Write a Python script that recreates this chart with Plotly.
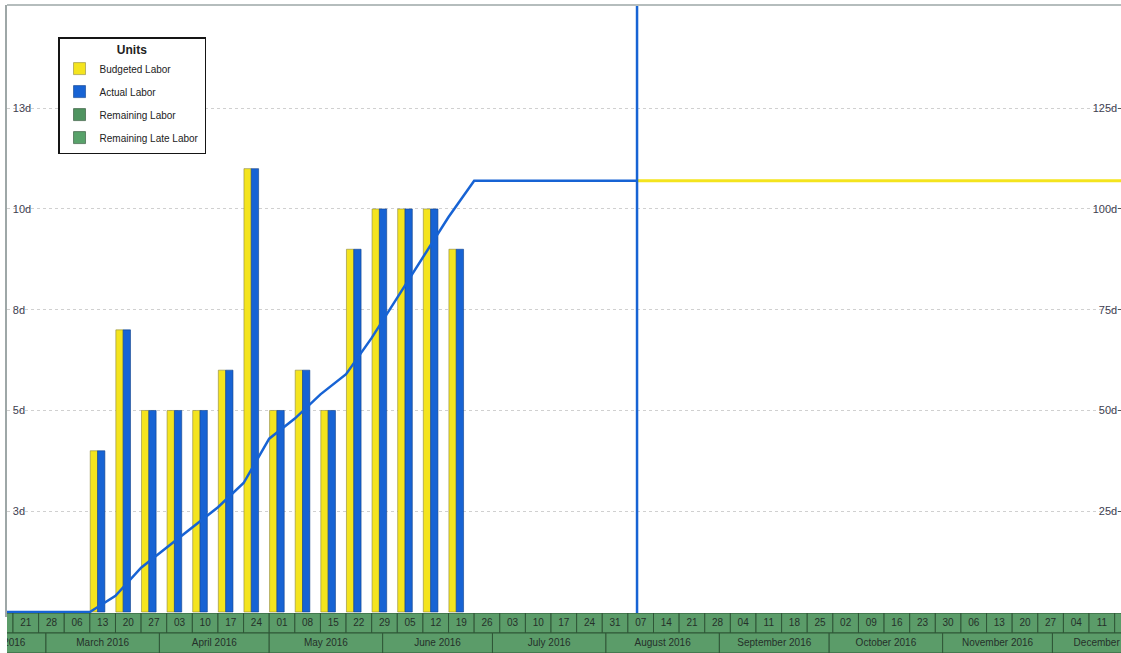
import pandas as pd
import plotly.graph_objects as go

# ---------------- data ----------------
bar_weeks = ["2016-03-13", "2016-03-20", "2016-03-27", "2016-04-03", "2016-04-10",
             "2016-04-17", "2016-04-24", "2016-05-01", "2016-05-08", "2016-05-15",
             "2016-05-22", "2016-05-29", "2016-06-05", "2016-06-12", "2016-06-19"]
budgeted_labor = [4, 7, 5, 5, 5, 6, 11, 5, 6, 5, 9, 10, 10, 10, 9]
actual_labor = [4, 7, 5, 5, 5, 6, 11, 5, 6, 5, 9, 10, 10, 10, 9]

data_date = "2016-08-09 12:00"
cum_actual_dates = ["2016-02-14", "2016-03-13", "2016-03-20", "2016-03-27", "2016-04-03",
                    "2016-04-10", "2016-04-17", "2016-04-24", "2016-05-01", "2016-05-08",
                    "2016-05-15", "2016-05-22", "2016-05-29", "2016-06-05", "2016-06-12",
                    "2016-06-19", "2016-06-26", data_date]
cum_actual = [0, 0, 4, 11, 16, 21, 26, 32, 43, 48, 54, 59, 68, 78, 88, 98, 107, 107]
cum_budget_dates = [data_date, "2016-12-31"]
cum_budget = [107, 107]

left_tickvals = [2.5, 5, 7.5, 10, 12.5]
left_ticktext = ["3d", "5d", "8d", "10d", "13d"]
right_tickvals = [25, 50, 75, 100, 125]
right_ticktext = ["25d", "50d", "75d", "100d", "125d"]

# timescale (calendar)
week_cells = pd.date_range("2016-02-14", "2016-12-18", freq="7D")
week_starts = pd.date_range("2016-02-21", "2016-12-11", freq="7D")
week_labels = [d.strftime("%d") for d in week_starts]
month_starts = pd.date_range("2016-02-01", "2016-12-01", freq="MS")
month_labels = [d.strftime("%B %Y") for d in month_starts]
month_days = [d.days_in_month for d in month_starts]

# ---------------- styling ----------------
DAY = 86400000
YELLOW = "#f4e41e"
BLUE = "#1763d4"
GREEN = "#5b9c69"
FONT = "Liberation Sans, Arial, sans-serif"

fig = go.Figure()

fig.add_trace(go.Bar(
    x=bar_weeks, y=budgeted_labor, name="Budgeted Labor",
    offset=0.1 * DAY, width=2.0 * DAY,
    marker=dict(color=YELLOW, line=dict(color="#8c8640", width=0.6)),
    legendgroup="g1", xaxis="x", yaxis="y"))
fig.add_trace(go.Bar(
    x=bar_weeks, y=actual_labor, name="Actual Labor",
    offset=2.1 * DAY, width=2.0 * DAY,
    marker=dict(color=BLUE, line=dict(color="#0e3f8a", width=0.6)),
    legendgroup="g2", xaxis="x", yaxis="y"))
fig.add_trace(go.Bar(
    x=[None], y=[None], name="Remaining Labor",
    marker=dict(color="#4f9460", line=dict(color="#2b4d33", width=0.6)),
    legendgroup="g3", xaxis="x", yaxis="y"))
fig.add_trace(go.Bar(
    x=[None], y=[None], name="Remaining Late Labor",
    marker=dict(color="#58a26a", line=dict(color="#2b4d33", width=0.6)),
    legendgroup="g4", xaxis="x", yaxis="y"))

# cumulative lines (right axis)
fig.add_trace(go.Scatter(
    x=cum_actual_dates, y=cum_actual, mode="lines",
    line=dict(color=BLUE, width=2.5), showlegend=False, hoverinfo="skip",
    xaxis="x", yaxis="y3"))
fig.add_trace(go.Scatter(
    x=cum_budget_dates, y=cum_budget, mode="lines",
    line=dict(color=YELLOW, width=3), showlegend=False, hoverinfo="skip",
    xaxis="x", yaxis="y3"))
# data date line
fig.add_trace(go.Scatter(
    x=[data_date, data_date], y=[-5, 200], mode="lines",
    line=dict(color=BLUE, width=2.5), showlegend=False, hoverinfo="skip",
    xaxis="x", yaxis="y3"))

# timescale rows
fig.add_trace(go.Bar(
    x=list(week_cells), y=[1] * len(week_cells), base=1,
    offset=0, width=7 * DAY,
    marker=dict(color=GREEN, line=dict(color="#2f5637", width=1)),
    showlegend=False, hoverinfo="skip", xaxis="x2", yaxis="y2"))
fig.add_trace(go.Bar(
    x=list(month_starts), y=[1] * len(month_starts), base=0,
    offset=0, width=[n * DAY for n in month_days],
    marker=dict(color=GREEN, line=dict(color="#2f5637", width=1)),
    showlegend=False, hoverinfo="skip", xaxis="x2", yaxis="y2"))
fig.add_trace(go.Scatter(
    x=[d + pd.Timedelta(hours=84) for d in week_starts], y=[1.5] * len(week_starts),
    text=week_labels, mode="text", textposition="middle center",
    textfont=dict(family=FONT, size=10, color="#25302a"),
    showlegend=False, hoverinfo="skip", cliponaxis=True, xaxis="x2", yaxis="y2"))
fig.add_trace(go.Scatter(
    x=[d + pd.Timedelta(hours=12 * n) for d, n in zip(month_starts, month_days)],
    y=[0.5] * len(month_starts),
    text=month_labels, mode="text", textposition="middle center",
    textfont=dict(family=FONT, size=10, color="#25302a"),
    showlegend=False, hoverinfo="skip", cliponaxis=True, xaxis="x2", yaxis="y2"))

tickfont = dict(family=FONT, size=11, color="#3d4050")

fig.update_layout(
    width=1121, height=653,
    margin=dict(l=7, r=0, t=5, b=0),
    paper_bgcolor="white", plot_bgcolor="white",
    barmode="overlay",
    showlegend=True,
    legend=dict(
        x=0.0458, y=(653 - 37) / 648, xanchor="left", yanchor="top",
        bgcolor="white", bordercolor="#151515", borderwidth=1.5,
        font=dict(family=FONT, size=10, color="#222222"),
        title=dict(text="<b>Units</b>", side="top center",
                   font=dict(family=FONT, size=12, color="#222222")),
        traceorder="grouped", tracegroupgap=4, itemwidth=30),
    xaxis=dict(type="date", range=["2016-02-19 08:36", "2016-12-19 17:30"],
               domain=[0, 1], anchor="y", showticklabels=False, showgrid=False,
               zeroline=False, ticks=""),
    yaxis=dict(domain=[36 / 648, 1], range=[-0.124, 15.06],
               tickvals=left_tickvals, ticktext=left_ticktext,
               ticklabelposition="inside", ticklabelstandoff=5, ticks="",
               showgrid=True, gridcolor="#d0d0d0", griddash="dot", gridwidth=1,
               zeroline=False, showline=True, linecolor="#9ea7a7", linewidth=2,
               tickfont=tickfont),
    yaxis3=dict(overlaying="y", side="right", anchor="x", range=[-1.24, 150.6],
                tickvals=right_tickvals, ticktext=right_ticktext,
                ticklabelposition="inside", ticks="inside", ticklen=3,
                tickcolor="#555555", showgrid=False, zeroline=False,
                tickfont=tickfont),
    xaxis2=dict(type="date", matches="x", anchor="y2", domain=[0, 1],
                showticklabels=False, showgrid=False, zeroline=False, ticks=""),
    yaxis2=dict(domain=[0, 40 / 648], range=[0, 2], anchor="x2",
                showticklabels=False, showgrid=False, zeroline=False, ticks=""),
    shapes=[dict(type="line", xref="paper", yref="paper", x0=0, x1=1, y0=1, y1=1,
                 line=dict(color="#b5bdbd", width=2))],
)

fig.write_html("out.html")
